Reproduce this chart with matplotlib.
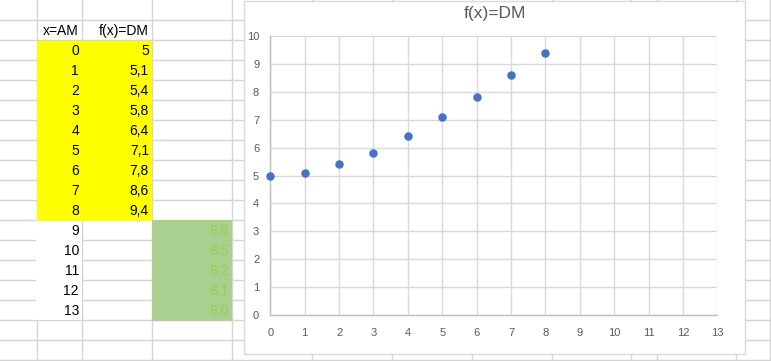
import numpy as np
from matplotlib import pyplot as plt
from matplotlib.patches import Rectangle

# data
am = list(range(14))
dm = [5, 5.1, 5.4, 5.8, 6.4, 7.1, 7.8, 8.6, 9.4]
pred = ['8,9', '8,5', '8,2', '8,1', '8,0']
dm_labels = ['5', '5,1', '5,4', '5,8', '6,4', '7,1', '7,8', '8,6', '9,4']
xticks = list(range(14))
yticks = list(range(11))

W, H = 771, 361
plt.rcParams['font.family'] = ['Liberation Sans', 'DejaVu Sans']

fig = plt.figure(figsize=(W / 100, H / 100), dpi=100)

# spreadsheet layer, pixel coordinates
sh = fig.add_axes([0, 0, 1, 1])
sh.set_xlim(0, W)
sh.set_ylim(H, 0)
sh.axis('off')

gridc = '#d4d4d4'
cols = [36.7, 81.7, 151.7, 231.7, 312, 391.5, 471.5, 551.6, 631, 657, 736, 770]
for x in cols:
    sh.plot([x, x], [0, H], color=gridc, lw=1, zorder=1)
for y in range(20, 361, 20):
    sh.plot([0, W], [y, y], color=gridc, lw=1, zorder=1)

# cell fills
sh.add_patch(Rectangle((36.7, 40.5), 115, 180, color='#ffff00', zorder=2, lw=0))
sh.add_patch(Rectangle((36.2, 220.5), 46, 99.5, color='white', zorder=2, lw=0))
sh.add_patch(Rectangle((151.7, 220), 80, 100.5, color='#a9d08e', zorder=2, lw=0))

fs = 10
sh.text(79, 35, 'x=AM', ha='right', va='baseline', fontsize=fs, zorder=3)
sh.text(149, 35, 'f(x)=DM', ha='right', va='baseline', fontsize=fs, zorder=3)
for i, a in enumerate(am):
    yb = 55 + 20 * i
    sh.text(79, yb, str(a), ha='right', va='baseline', fontsize=fs, zorder=3)
    if i < len(dm_labels):
        sh.text(149, yb, dm_labels[i], ha='right', va='baseline', fontsize=fs, zorder=3)
for i, p in enumerate(pred):
    yb = 55 + 20 * (i + 9)
    sh.text(229, yb, p, ha='right', va='baseline', fontsize=fs, color='#92d050', zorder=3)

# chart box
sh.add_patch(Rectangle((244.3, 0.5), 500.7, 353.2, facecolor='white',
                       edgecolor='#d9d9d9', lw=1, zorder=4))
sh.text(494.5, 13.5, 'f(x)=DM', ha='center', va='center', fontsize=12.5,
        color='#595959', zorder=5)

# scatter chart
l, r, t, b = 270.3, 717.3, 36, 315
ax = fig.add_axes([l / W, 1 - b / H, (r - l) / W, (b - t) / H])
ax.set_facecolor('none')
ax.scatter(am[:len(dm)], dm, s=26, color='#4472c4', zorder=3, clip_on=False)
ax.set_xlim(0, 13)
ax.set_ylim(0, 10)
ax.set_xticks(xticks)
ax.set_yticks(yticks)
ax.grid(True, color='#d9d9d9', lw=1)
ax.set_axisbelow(True)
for s in ['top', 'right']:
    ax.spines[s].set_visible(False)
for s in ['left', 'bottom']:
    ax.spines[s].set_color('#bfbfbf')
    ax.spines[s].set_linewidth(1)
ax.tick_params(axis='both', length=0, labelsize=8, labelcolor='#595959')
ax.tick_params(axis='x', pad=9.5)
ax.tick_params(axis='y', pad=8)

plt.savefig('out.png', dpi=100)
